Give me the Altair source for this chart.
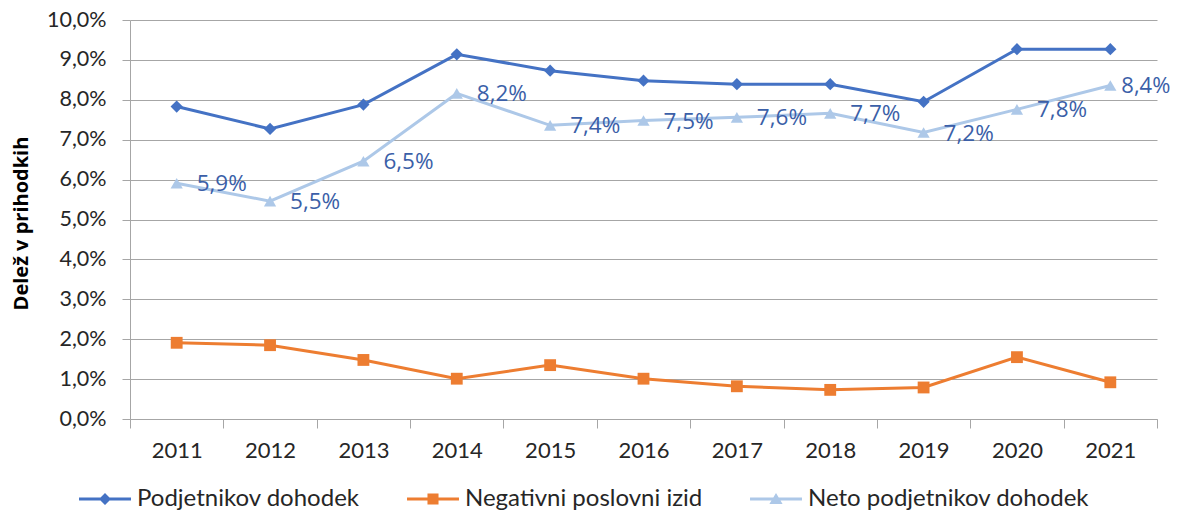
import altair as alt
import pandas as pd

years = ["2011", "2012", "2013", "2014", "2015", "2016", "2017", "2018", "2019", "2020", "2021"]
series_names = ["Podjetnikov dohodek", "Negativni poslovni izid", "Neto podjetnikov dohodek"]
podjetnikov = [7.83, 7.27, 7.88, 9.14, 8.73, 8.48, 8.39, 8.39, 7.95, 9.27, 9.27]
negativni = [1.91, 1.85, 1.48, 1.01, 1.35, 1.01, 0.82, 0.73, 0.79, 1.55, 0.92]
neto = [5.91, 5.46, 6.46, 8.16, 7.36, 7.48, 7.56, 7.66, 7.18, 7.76, 8.36]
colors = ["#4472c4", "#ed7d31", "#adc8e8"]

rows = []
for name, vals in zip(series_names, [podjetnikov, negativni, neto]):
    for y, v in zip(years, vals):
        rows.append({"leto": y, "vrednost": v, "serija": name})
df = pd.DataFrame(rows)

FONT = "Lato"

x_enc = alt.X("leto:O", title=None,
              scale=alt.Scale(paddingInner=0, paddingOuter=0),
              axis=alt.Axis(labelAngle=0, tickBand="extent", tickSize=9, tickColor="#a6a6a6",
                            domainColor="#a6a6a6", labelPadding=12, labelFontSize=22,
                            labelColor="#262626", labelFont=FONT))
y_enc = alt.Y("vrednost:Q", title="Delež v prihodkih",
              scale=alt.Scale(domain=[0, 10], nice=False, zero=True),
              axis=alt.Axis(values=list(range(0, 11)),
                            labelExpr="replace(format(datum.value, '.1f'), '.', ',') + '%'",
                            tickSize=8, tickColor="#a6a6a6", domainColor="#a6a6a6",
                            grid=True, gridColor="#a6a6a6", gridWidth=1,
                            labelPadding=16, labelFontSize=21.5, labelColor="#262626", labelFont=FONT,
                            titleFont="Open Sans", titleFontSize=20, titleFontWeight="bold",
                            titleColor="#000000",
                            titleX=-103, titleY=203, titleAngle=270, titleAlign="center",
                            titleBaseline="alphabetic"))

base = alt.Chart(df)

shapes = ["diamond", "square", "triangle-up"]
sizes = [150, 140, 150]
series_layers = []
for name, col in zip(series_names, colors):
    sub = base.transform_filter(alt.datum.serija == name)
    series_layers.append(sub.mark_line(strokeWidth=3, color=col).encode(x=x_enc, y=y_enc))
for name, col, shp, sz in zip(series_names, colors, shapes, sizes):
    sub = base.transform_filter(alt.datum.serija == name)
    series_layers.append(
        sub.mark_point(shape=shp, filled=True, size=sz, opacity=1, color=col).encode(x=x_enc, y=y_enc)
    )

label_src = base.transform_filter(alt.datum.serija == series_names[2]).transform_calculate(
    oznaka="replace(format(datum.vrednost, '.1f'), '.', ',') + '%'"
)
labels_main = label_src.transform_filter(alt.datum.leto != years[-1]).mark_text(
    align="left", baseline="middle", dx=20, dy=1, fontSize=22.5, font="Open Sans", color="#3b5fa8"
).encode(x=x_enc, y=y_enc, text="oznaka:N")
labels_last = label_src.transform_filter(alt.datum.leto == years[-1]).mark_text(
    align="left", baseline="middle", dx=11, dy=1, fontSize=22, font="Open Sans", color="#3b5fa8"
).encode(x=x_enc, y=y_enc, text="oznaka:N")

# legend symbols: unit = 6px (symbol size 144)
line_path = "M-4.33,-0.25H4.33V0.25H-4.33Z"
legend_paths = [
    line_path + "M0,-1L1,0L0,1L-1,0Z",
    line_path + "M-0.92,-0.92H0.92V0.92H-0.92Z",
    line_path + "M0,-1L1.1,0.85H-1.1Z",
]

leg = alt.Legend(title=None, orient="none", legendX=-37, legendY=467,
                 direction="horizontal", labelFontSize=24, labelFont=FONT,
                 labelColor="#262626", labelOffset=20, columnPadding=47,
                 symbolSize=144, symbolStrokeWidth=0, padding=0, symbolOpacity=1,
                 labelLimit=400)

legend_layer = base.mark_point(filled=True, size=144, opacity=0).encode(
    x=x_enc, y=y_enc,
    fill=alt.Fill("serija:N", scale=alt.Scale(domain=series_names, range=colors), legend=leg),
    shape=alt.Shape("serija:N", scale=alt.Scale(domain=series_names, range=legend_paths), legend=leg),
)

chart = alt.layer(*series_layers, labels_main, labels_last, legend_layer).properties(
    width=1027, height=399,
    autosize=alt.AutoSizeParams(type="none"),
    padding={"left": 122, "top": 12, "right": 13, "bottom": 92},
    background="white",
).configure_view(stroke=None)

chart.save("out.html", embed_options={"renderer": "svg", "actions": False})
